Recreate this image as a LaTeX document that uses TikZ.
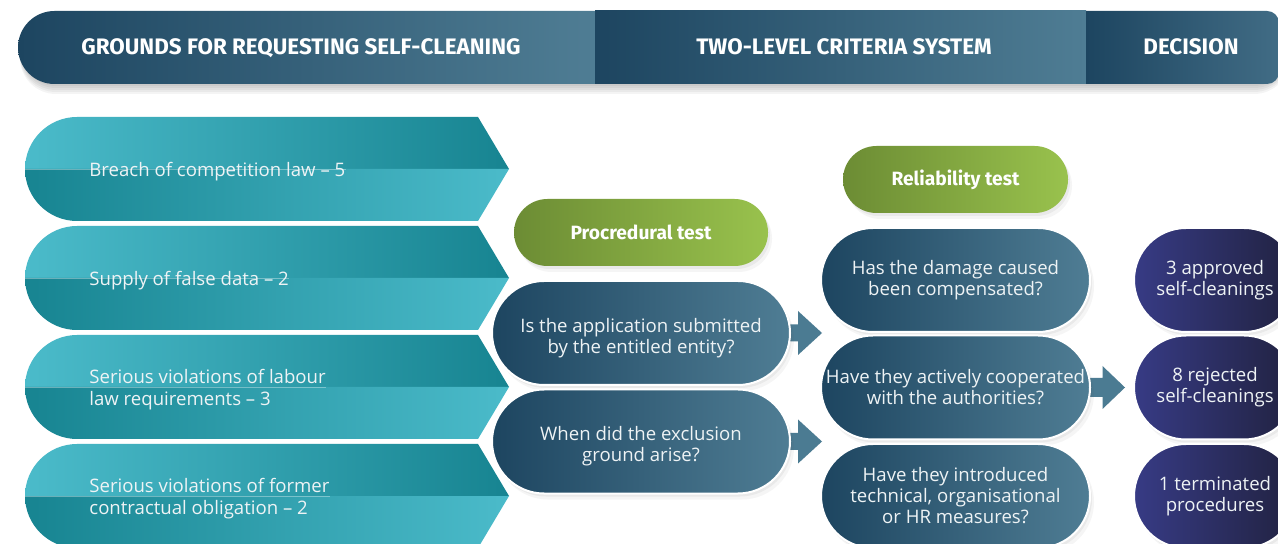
\documentclass[tikz,border=0pt]{standalone}
\usepackage{fontspec}
\setmainfont{Open Sans}
\newfontfamily\hdrfont{Fira Sans}
\usetikzlibrary{shapes.misc,shadows,calc}
\definecolor{navy}{HTML}{1D4560}
\definecolor{steel}{HTML}{4F7D94}
\definecolor{steelR}{HTML}{416C85}
\definecolor{tealL}{HTML}{4BBBCA}
\definecolor{tealD}{HTML}{178491}
\definecolor{grnD}{HTML}{6C8C34}
\definecolor{grnL}{HTML}{99C24D}
\definecolor{indL}{HTML}{373B85}
\definecolor{indD}{HTML}{212240}
\definecolor{arrc}{HTML}{4B7B92}
\definecolor{txt}{HTML}{EEF3F5}
\newcommand\lowstrut{\rule{0pt}{12pt}}
\tikzset{
  softshadow/.style={general shadow={fill=black!70,opacity=.07,shadow xshift=1pt,shadow yshift=-1.5pt},
                     general shadow={fill=black!70,opacity=.05,shadow xshift=2pt,shadow yshift=-3pt}},
  hdrtext/.style={text=white,font=\hdrfont\bfseries\fontsize{11.2}{13}\selectfont,inner sep=0pt,anchor=base},
  ctext/.style={text=txt,font=\fontsize{9.3}{11}\selectfont,align=left,inner sep=0pt,anchor=west},
  pill/.style={rounded rectangle,minimum height=52pt,inner sep=0pt,draw=white,line width=1pt,
               text=txt,align=center,font=\fontsize{9.3}{10.5}\selectfont,softshadow},
  darkpill/.style={pill,left color=navy,right color=steel,minimum width=#1},
  decpill/.style={pill,left color=indL,right color=indD,minimum width=81pt},
  greenpill/.style={rounded rectangle,minimum height=33.5pt,minimum width=#1,inner sep=0pt,
               left color=grnD,right color=grnL,text=white,softshadow,
               font=\hdrfont\bfseries\fontsize{9.6}{11}\selectfont},
  blockarrow/.style={fill=arrc},
}
\begin{document}
\begin{tikzpicture}[x=0.5pt,y=-0.5pt]
\useasboundingbox (0,0) rectangle (1278,544);
\fill[white] (0,0) rectangle (1278,544);

% header shadow
\foreach \s in {2,4,6,8,10}
  \fill[black,opacity=.045,rounded corners=18pt] (20,{11+\s}) rectangle (1290,{84+\s});
% header bar
\shade[left color=navy,right color=steel] (595,11) [rounded corners=18.25pt] -- (18,11) -- (18,84) [sharp corners] -- (595,84) -- cycle;
\shade[left color=navy,right color=steel] (595,11) rectangle (1086,84);
\shade[left color=navy,right color=steelR] (1086,84) -- (1086,11) [rounded corners=6pt] -- (1279,11) -- (1279,84) [sharp corners] -- cycle;
\node[hdrtext] (h1) at (301,55) {GROUNDS FOR REQUESTING SELF-CLEANING};
\node[hdrtext] (h2) at (844,55) {TWO-LEVEL CRITERIA SYSTEM};
\node[hdrtext] (h3) at (1191,55) {DECISION};

% chevrons
\foreach \T in {117,226,335,444}{
  \pgfmathsetmacro\M{\T+52}
  \pgfmathsetmacro\B{\T+104}
  \shade[left color=tealL,right color=tealD] (25,\M) [rounded corners=26pt] -- (25,\T) [sharp corners] -- (478,\T) -- (509,\M) -- cycle;
  \shade[left color=tealD,right color=tealL] (25,\M) [rounded corners=26pt] -- (25,\B) [sharp corners] -- (478,\B) -- (509,\M) -- cycle;
}
\node[ctext] (g1) at (89,171.5) {Breach of competition law -- 5};
\node[ctext] (g2) at (89,280.5) {Supply of false data -- 2};
\node[ctext] (g3) at (89,390) {Serious violations of labour\\law requirements -- 3};
\node[ctext] (g4) at (89,499) {Serious violations of former\\contractual obligation -- 2};
\foreach \n/\y in {g1/169,g2/278,g3/387,g4/496}
  \draw[white,opacity=.35,line width=.4pt] (25,\y) -- (\n.east |- 0,\y);

% green headers
\node[greenpill=127pt] (pt) at (641,232.5) {Procredural test};
\node[greenpill=112.5pt] (rt) at (955.5,179.5) {Reliability test};

% coordinates for arrow tips
\coordinate (t1) at (822,333);
\coordinate (t2) at (822,441.5);
\coordinate (t3) at (1125,387.5);

% arrows (behind pills)
\fill[blockarrow] ($(641,333)+(139,-8.5)$) -- ($(641,333)+(157,-8.5)$) -- ($(641,333)+(157,-22)$) -- (t1) -- ($(641,333)+(157,22)$) -- ($(641,333)+(157,8.5)$) -- ($(641,333)+(139,8.5)$) -- cycle;
\fill[blockarrow] ($(641,441.5)+(139,-8.5)$) -- ($(641,441.5)+(157,-8.5)$) -- ($(641,441.5)+(157,-22)$) -- (t2) -- ($(641,441.5)+(157,22)$) -- ($(641,441.5)+(157,8.5)$) -- ($(641,441.5)+(139,8.5)$) -- cycle;
\fill[blockarrow] ($(955.5,387.5)+(124,-9.5)$) -- ($(955.5,387.5)+(147,-9.5)$) -- ($(955.5,387.5)+(147,-21.5)$) -- (t3) -- ($(955.5,387.5)+(147,21.5)$) -- ($(955.5,387.5)+(147,9.5)$) -- ($(955.5,387.5)+(124,9.5)$) -- cycle;

% procedural pills
\node[darkpill=149pt] (p1) at (641,333) {\lowstrut Is the application submitted\\by the entitled entity?};
\node[darkpill=149pt] (p2) at (641,441.5) {\lowstrut When did the exclusion\\ground arise?};

% reliability pills
\node[darkpill=134.5pt] (r1) at (955.5,280) {Has the damage caused\\been compensated?};
\node[darkpill=134.5pt] (r2) at (955.5,387.5) {Have they actively cooperated\\with the authorities?};
\node[darkpill=134.5pt] (r3) at (955.5,496) {Have they introduced\\technical, organisational\\or HR measures?};

% decisions
\node[decpill] (d1) at (1215,280) {3 approved\\self-cleanings};
\node[decpill] (d2) at (1215,387.5) {8 rejected\\self-cleanings};
\node[decpill] (d3) at (1215,496) {1 terminated\\procedures};
\end{tikzpicture}
\end{document}
